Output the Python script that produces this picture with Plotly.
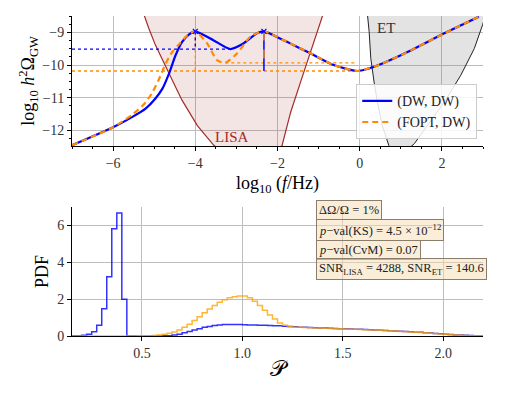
import numpy as np
import plotly.graph_objects as go

# ---- top panel: spectra (log10 f, log10 h^2 Omega) ----
dw_f = [-7, -6, -5.54, -5.21, -4.97, -4.8, -4.64, -4.48, -4.32, -4.15, -4.0,
        -3.56, -3.15, -2.83, -2.5, -2.33, -1.85, -1.2, -0.63, -0.06, 0.35, 1.0, 2.06, 2.9]
dw_h = [-12.45, -11.9, -11.59, -11.33, -11.02, -10.72, -10.26, -9.7, -9.29, -9.06, -8.97,
        -9.24, -9.51, -9.34, -9.03, -8.97, -9.24, -9.64, -10.0, -10.18, -10.05, -9.7, -9.03, -8.52]

fopt_f = [-7, -6, -5.54, -5.25, -5.05, -4.89, -4.72, -4.56, -4.4, -4.2, -4.0,
          -3.71, -3.47, -3.27, -2.98, -2.66, -2.33, -1.85, -1.2, -0.63, -0.06, 0.35, 1.0, 2.06, 2.9]
fopt_h = [-12.45, -11.9, -11.52, -11.2, -10.85, -10.45, -9.95, -9.6, -9.37, -9.1, -8.97,
          -9.34, -9.85, -9.93, -9.64, -9.13, -8.97, -9.24, -9.64, -10.0, -10.18, -10.05, -9.7, -9.03, -8.52]

lisa_f = [-5.35, -5.25, -5.13, -4.97, -4.8, -4.64, -4.48, -4.32, -4.15, -3.95, -3.55,
          -3.2, -2.7, -2.2, -1.89, -1.68, -1.44, -1.2, -0.89, -0.8]
lisa_h = [-8.1, -8.47, -8.88, -9.39, -9.85, -10.26, -10.67, -11.08, -11.44, -11.85, -12.45,
          -12.8, -13.0, -12.9, -12.46, -11.44, -10.52, -9.6, -8.47, -8.1]

et_f = [0.18, 0.19, 0.23, 0.27, 0.35, 0.43, 0.55, 0.71, 0.9, 1.1, 1.33, 1.65, 2.06, 2.46, 2.79, 2.99, 3.1]
et_h = [-8.1, -8.47, -8.98, -9.8, -10.52, -11.13, -11.85, -12.46, -12.7, -12.65, -12.4,
        -11.85, -11.13, -10.31, -9.49, -8.77, -8.3]

peak_f = [-4.0, -2.33]
peak_h = -8.97
dw_min_h = -9.51
fopt_min_h = -9.93
floor_h = -10.18

# ---- bottom panel: PDF histograms of P ----
bin_edges = np.round(np.arange(0.15, 2.2001, 0.025), 3)

pdf_dw = [0.01, 0.02, 0.04, 0.09, 0.23, 0.59, 1.48, 3.21, 5.82, 6.68, 2.0,
          0, 0, 0, 0, 0, 0,
          0.005, 0.01, 0.02, 0.05, 0.1, 0.17, 0.24, 0.32, 0.4, 0.47, 0.52, 0.57, 0.6, 0.62,
          0.63, 0.63, 0.62, 0.61, 0.6, 0.6, 0.59, 0.58, 0.57, 0.56, 0.55, 0.53, 0.52, 0.5,
          0.48, 0.47, 0.46, 0.45, 0.44, 0.43, 0.42, 0.41, 0.4, 0.39, 0.38, 0.37, 0.36, 0.35,
          0.34, 0.33, 0.31, 0.3, 0.29, 0.27, 0.26, 0.24, 0.23, 0.21, 0.2, 0.18, 0.16, 0.14,
          0.12, 0.1, 0.08, 0.06, 0.05, 0.04, 0.03, 0.02, 0.01]

pdf_fopt = [0, 0, 0, 0, 0, 0, 0, 0, 0, 0, 0, 0,
            0.005, 0.01, 0.015, 0.02, 0.03, 0.05, 0.1, 0.15, 0.22, 0.33, 0.47, 0.64, 0.84,
            1.04, 1.26, 1.47, 1.66, 1.83, 1.97, 2.07, 2.13, 2.17, 2.17, 2.08, 1.88, 1.66, 1.4,
            1.14, 0.92, 0.71, 0.58, 0.5, 0.48, 0.47, 0.46, 0.45, 0.44, 0.43, 0.42, 0.41, 0.4,
            0.39, 0.38, 0.37, 0.36, 0.35, 0.34, 0.33, 0.32, 0.31, 0.3, 0.28, 0.27, 0.25, 0.24,
            0.22, 0.21, 0.19, 0.17, 0.15, 0.13, 0.11, 0.09, 0.07, 0.05, 0.04, 0.03, 0.02, 0.02, 0.01]

box_texts = [
    "ΔΩ/Ω = 1%",
    "<i>p</i>−val(KS) = 4.5 × 10<sup>−12</sup>",
    "<i>p</i>−val(CvM) = 0.07",
    "SNR<sub>LISA</sub> = 4288, SNR<sub>ET</sub> = 140.6",
]
box_y = [6.83, 5.77, 4.69, 3.64]

BLUE = "#0000ff"
ORANGE = "#ff8c00"
FONT = "Liberation Serif, DejaVu Serif, serif"

fig = go.Figure()

# sensitivity regions
fig.add_trace(go.Scatter(x=lisa_f, y=lisa_h, fill="toself", fillcolor="rgba(165,42,42,0.12)",
                         line=dict(color="#a52a2a", width=1.2), mode="lines",
                         showlegend=False, hoverinfo="skip", xaxis="x", yaxis="y"))
fig.add_trace(go.Scatter(x=et_f, y=et_h, fill="toself", fillcolor="rgba(128,128,128,0.22)",
                         line=dict(color="#222222", width=1), mode="lines",
                         showlegend=False, hoverinfo="skip", xaxis="x", yaxis="y"))

# reference levels
def ref_line(x, y, color, dash, width=1.3):
    fig.add_trace(go.Scatter(x=x, y=y, mode="lines", line=dict(color=color, dash=dash, width=width),
                             showlegend=False, hoverinfo="skip", xaxis="x", yaxis="y"))

ref_line([-7, -3.1], [dw_min_h, dw_min_h], BLUE, "dot")
ref_line([-7, -0.07], [floor_h, floor_h], ORANGE, "dot")
ref_line([-3.27, -0.07], [fopt_min_h, fopt_min_h], ORANGE, "dot")
ref_line([peak_f[0], peak_f[0]], [peak_h, floor_h], ORANGE, "dot")
ref_line([peak_f[0], peak_f[0]], [peak_h, dw_min_h], BLUE, "dot")
ref_line([peak_f[1], peak_f[1]], [peak_h, floor_h], BLUE, "solid", 1.5)
ref_line([peak_f[1], peak_f[1]], [peak_h, fopt_min_h], ORANGE, "dash", 1.5)

# spectra
fig.add_trace(go.Scatter(x=dw_f, y=dw_h, mode="lines", name="(DW, DW)",
                         line=dict(color=BLUE, width=2.2, shape="spline", smoothing=0.6),
                         xaxis="x", yaxis="y"))
fig.add_trace(go.Scatter(x=fopt_f, y=fopt_h, mode="lines", name="(FOPT, DW)",
                         line=dict(color=ORANGE, width=2.2, dash="6px,4px", shape="spline", smoothing=0.6),
                         xaxis="x", yaxis="y"))
fig.add_trace(go.Scatter(x=peak_f, y=[peak_h, peak_h], mode="markers",
                         marker=dict(symbol="x-thin", size=5, line=dict(color=BLUE, width=1.2)),
                         showlegend=False, hoverinfo="skip", xaxis="x", yaxis="y"))

# histograms as steps
def step(heights, color, name):
    xs = [bin_edges[0]] + list(bin_edges)
    ys = [0] + list(heights) + [0]
    fig.add_trace(go.Scatter(x=xs, y=ys, mode="lines", line=dict(color=color, width=1.5, shape="hv"),
                             opacity=0.8, name=name, showlegend=False, xaxis="x2", yaxis="y2"))

step(pdf_dw, BLUE, "(DW, DW)")
step(pdf_fopt, "#ffa500", "(FOPT, DW)")

for t, y in zip(box_texts, box_y):
    fig.add_annotation(x=1.366, y=y, xref="x2", yref="y2", text=t, showarrow=False,
                       xanchor="left", yanchor="middle", align="left",
                       font=dict(family=FONT, size=12.5, color="#222222"),
                       bgcolor="rgba(245,222,179,0.5)", bordercolor="#8a7d6c",
                       borderwidth=1, borderpad=2)

fig.add_annotation(x=-3.1, y=-12.2, xref="x", yref="y", text="LISA", showarrow=False,
                   font=dict(family=FONT, size=15, color="#a52a2a"))
fig.add_annotation(x=0.63, y=-8.88, xref="x", yref="y", text="ET", showarrow=False,
                   font=dict(family=FONT, size=15, color="#333333"))

axis_common = dict(showline=True, linecolor="black", linewidth=1, ticks="outside", ticklen=4,
                   tickcolor="black", showgrid=True, gridcolor="#bdbdbd", gridwidth=1,
                   zeroline=False, tickfont=dict(family=FONT, size=14, color="#333333"),
                   mirror=False, automargin=False)

# the page body adds 8px on the left and top, so the margins are trimmed by that much
fig.update_layout(
    width=506, height=393,
    margin=dict(l=64, r=31, t=8, b=65),
    paper_bgcolor="white", plot_bgcolor="white",
    font=dict(family=FONT, color="black"),
    xaxis=dict(axis_common, domain=[0, 1], range=[-7, 3], anchor="y", dtick=2,
               minor=dict(dtick=0.5, ticklen=2, tickcolor="black", showgrid=False),
               title=dict(text="log<sub>10</sub> (<i>f</i>/Hz)", font=dict(size=18), standoff=6)),
    yaxis=dict(axis_common, domain=[0.594, 1.0], range=[-12.47, -8.5], anchor="x", dtick=1,
               minor=dict(dtick=0.25, ticklen=2, tickcolor="black", showgrid=False),
               title=dict(text="log<sub>10</sub> <i>h</i><sup>2</sup>Ω<sub>GW</sub>", font=dict(size=18), standoff=2)),
    xaxis2=dict(axis_common, domain=[0, 1], range=[0.152, 2.198], anchor="y2",
                tickvals=[0.5, 1.0, 1.5, 2.0], ticktext=["0.5", "1.0", "1.5", "2.0"],
                title=dict(text="𝒫", font=dict(size=22), standoff=0)),
    yaxis2=dict(axis_common, domain=[0, 0.403], range=[0, 7], anchor="x2", dtick=2,
                title=dict(text="PDF", font=dict(size=18), standoff=3)),
    legend=dict(x=0.986, y=0.615, xanchor="right", yanchor="bottom", xref="paper", yref="paper",
                bgcolor="rgba(255,255,255,0.85)", bordercolor="#cccccc", borderwidth=1,
                font=dict(family=FONT, size=14, color="#222222"), itemwidth=30,
                tracegroupgap=0),
)

fig.write_html("out.html")
